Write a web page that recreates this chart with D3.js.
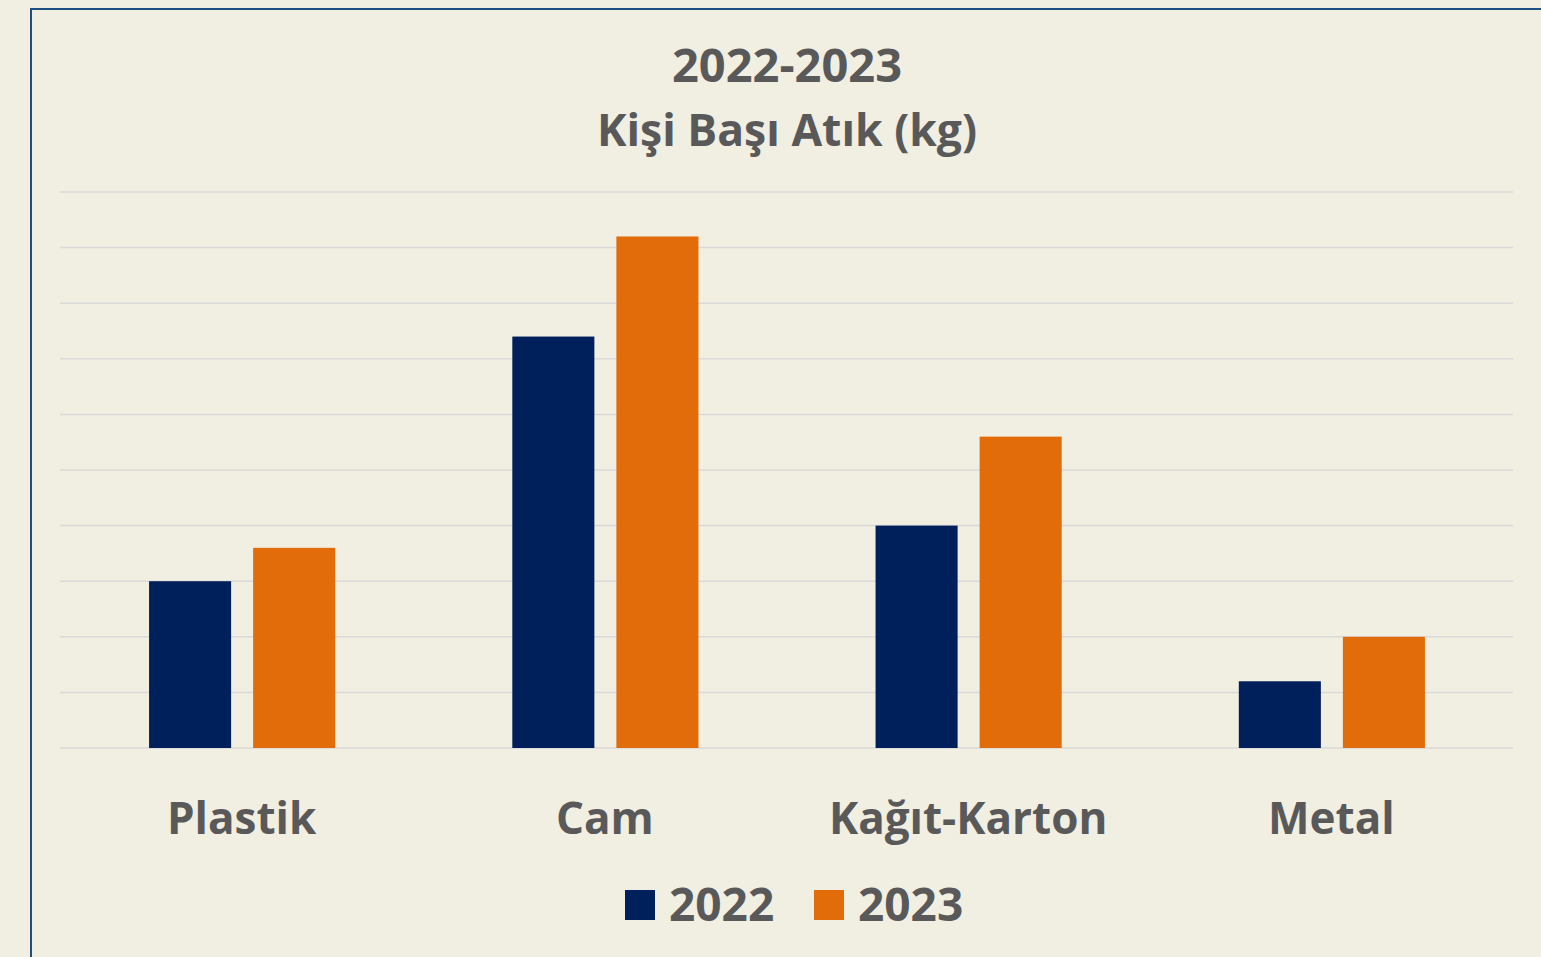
<!DOCTYPE html>
<html>
<head>
<meta charset="utf-8">
<script src="https://cdn.jsdelivr.net/npm/d3@7"></script>
<style>
  html, body { margin: 0; padding: 0; background: #f1eee2; }
  svg { display: block; }
  text { font-family: "Open Sans", "Noto Sans", sans-serif; font-weight: 700; fill: #595959; }
</style>
</head>
<body>
<script>
// chart data
const categories = ["Plastik", "Cam", "Kağıt-Karton", "Metal"];
const years = ["2022", "2023"];
const values2022 = [3.0, 7.4, 4.0, 1.2];
const values2023 = [3.6, 9.2, 5.6, 2.0];
const yTicks = [0, 1, 2, 3, 4, 5, 6, 7, 8, 9, 10];
const titleLines = ["2022-2023", "Kişi Başı Atık (kg)"];

const colors = { "2022": "#00205b", "2023": "#e36c0a" };

const W = 1541, H = 957;
const plot = { left: 60, right: 1513, top: 192, bottom: 748 };

const svg = d3.select("body").append("svg")
  .attr("width", W)
  .attr("height", H);

svg.append("rect")
  .attr("width", W).attr("height", H)
  .attr("fill", "#f1eee2");

// frame (runs off the right and bottom edge)
svg.append("rect")
  .attr("x", 31).attr("y", 9)
  .attr("width", W + 20).attr("height", H + 20)
  .attr("fill", "none")
  .attr("stroke", "#1f4e84")
  .attr("stroke-width", 2);

const x0 = d3.scaleBand()
  .domain(categories)
  .range([plot.left, plot.right]);

const bw = x0.bandwidth();
const x1 = d3.scaleBand()
  .domain(years)
  .range([bw * 89 / 363, bw * 275 / 363])
  .paddingInner(0.2115);

const y = d3.scaleLinear()
  .domain([0, 10])
  .range([plot.bottom, plot.top]);

// gridlines
svg.append("g")
  .selectAll("line")
  .data(yTicks)
  .join("line")
  .attr("x1", plot.left).attr("x2", plot.right)
  .attr("y1", d => y(d)).attr("y2", d => y(d))
  .attr("stroke", "#d9d9d9")
  .attr("stroke-width", 1.5);

// bars
const rows = categories.map((c, i) => ({ cat: c, vals: [
  { year: "2022", v: values2022[i] },
  { year: "2023", v: values2023[i] }
]}));

svg.append("g")
  .selectAll("g")
  .data(rows)
  .join("g")
  .attr("transform", d => `translate(${x0(d.cat)},0)`)
  .selectAll("rect")
  .data(d => d.vals)
  .join("rect")
  .attr("x", d => x1(d.year))
  .attr("width", x1.bandwidth())
  .attr("y", d => y(d.v))
  .attr("height", d => y(0) - y(d.v))
  .attr("fill", d => colors[d.year]);

// category labels
svg.append("g")
  .selectAll("text")
  .data(categories)
  .join("text")
  .attr("x", d => x0(d) + bw / 2)
  .attr("y", 834)
  .attr("text-anchor", "middle")
  .attr("font-size", 44)
  .text(d => d);

// title
svg.append("text")
  .attr("x", 787).attr("y", 82)
  .attr("text-anchor", "middle")
  .attr("font-size", 47)
  .text(titleLines[0]);
svg.append("text")
  .attr("x", 787).attr("y", 146)
  .attr("text-anchor", "middle")
  .attr("font-size", 44.5)
  .text(titleLines[1]);

// legend
const legendX = [625, 814];
const legend = svg.append("g")
  .selectAll("g")
  .data(years)
  .join("g")
  .attr("transform", (d, i) => `translate(${legendX[i]},890)`);
legend.append("rect")
  .attr("width", 30).attr("height", 30)
  .attr("fill", d => colors[d]);
legend.append("text")
  .attr("x", 44).attr("y", 31)
  .attr("font-size", 46)
  .text(d => d);
</script>
</body>
</html>
